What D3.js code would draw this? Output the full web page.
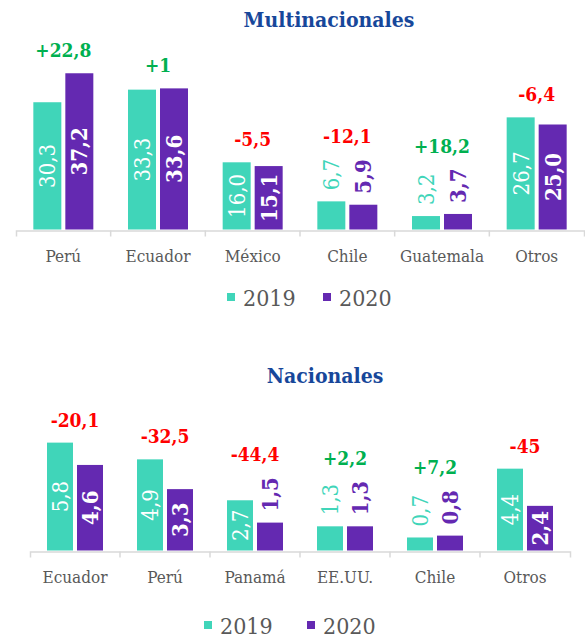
<!DOCTYPE html>
<meta charset="utf-8">
<style>
  body { margin: 0; background: #fff; }
  svg text { font-family: "DejaVu Serif Condensed", "DejaVu Serif", serif; font-stretch: condensed; }
</style>
<svg id="chart" width="585" height="641"></svg>
<script src="https://d3js.org/d3.v7.min.js"></script>
<script>
// ---- data ----
var years = ["2019", "2020"];

var multiCats = ["Perú", "Ecuador", "México", "Chile", "Guatemala", "Otros"];
var multi2019 = [30.3, 33.3, 16.0, 6.7, 3.2, 26.7];
var multi2020 = [37.2, 33.6, 15.1, 5.9, 3.7, 25.0];
var multiChange = [22.8, 1, -5.5, -12.1, 18.2, -6.4];

var nacCats = ["Ecuador", "Perú", "Panamá", "EE.UU.", "Chile", "Otros"];
var nac2019 = [5.8, 4.9, 2.7, 1.3, 0.7, 4.4];
var nac2020 = [4.6, 3.3, 1.5, 1.3, 0.8, 2.4];
var nacChange = [-20.1, -32.5, -44.4, 2.2, 7.2, -45];

// ---- styles ----
var color = { "2019": "#40d5b9", "2020": "#6429b1" };
var titleColor = "#17479a";
var greyText = "#595959";
var up = "#00b050", down = "#ff0000";

var svg = d3.select("#chart");

var fmtVal = function (v) { return d3.format(".1f")(v).replace(".", ","); };
var fmtChg = function (v) { return (v > 0 ? "+" : "") + String(v).replace(".", ","); };

function drawPanel(p) {
  var g = svg.append("g");

  // title
  g.append("text")
    .attr("x", p.titleX).attr("y", p.titleY)
    .attr("text-anchor", "middle")
    .style("font-weight", "bold").style("font-size", "21px")
    .attr("fill", titleColor)
    .text(p.title);

  var x = d3.scaleBand().domain(p.cats).range(p.xRange);
  var y = d3.scaleLinear().domain([0, p.yMax]).range([p.base, p.base - p.yMax * p.pxPerUnit]);

  var gw = p.barW * 2 + 4;
  var x1 = d3.scaleBand().domain(years)
    .range([x.bandwidth() / 2 - gw / 2, x.bandwidth() / 2 + gw / 2])
    .paddingInner(4 / (p.barW + 4));

  var rows = p.cats.map(function (c, i) {
    return { cat: c, vals: [p.v19[i], p.v20[i]], chg: p.chg[i] };
  });

  var grp = g.selectAll("g.cat").data(rows).enter().append("g")
    .attr("class", "cat")
    .attr("transform", function (d) { return "translate(" + x(d.cat) + ",0)"; });

  grp.each(function (d) {
    var gg = d3.select(this);
    var topMost = Infinity;
    years.forEach(function (yr, k) {
      var v = d.vals[k];
      var bx = x1(yr), bw = x1.bandwidth();
      var top = y(v);
      gg.append("rect")
        .attr("x", bx).attr("y", top)
        .attr("width", bw).attr("height", p.base - top)
        .attr("fill", color[yr]);

      var t = gg.append("text")
        .style("font-size", "22px")
        .style("font-weight", yr == "2020" ? "bold" : "normal")
        .attr("dy", "0.36em")
        .text(fmtVal(v));
      var len = t.node().getComputedTextLength();
      var cx = bx + bw / 2;
      if (p.base - top >= len + 8) {
        t.attr("fill", "#fff").attr("text-anchor", "middle")
          .attr("transform", "translate(" + cx + "," + (top + p.base) / 2 + ")rotate(-90)");
        topMost = Math.min(topMost, top);
      } else {
        t.attr("fill", color[yr]).attr("text-anchor", "start")
          .attr("transform", "translate(" + cx + "," + (top - 11) + ")rotate(-90)");
        topMost = Math.min(topMost, top - 11 - len);
      }
    });

    gg.append("text")
      .attr("x", x.bandwidth() / 2).attr("y", topMost - 16)
      .attr("text-anchor", "middle")
      .style("font-weight", "bold").style("font-size", "19px")
      .attr("fill", d.chg >= 0 ? up : down)
      .text(fmtChg(d.chg));
  });

  // axis
  var axis = g.append("g").attr("transform", "translate(0," + p.axisY + ")")
    .call(d3.axisBottom(x).tickSizeInner(0).tickSizeOuter(6).tickPadding(0));
  axis.attr("font-family", null).attr("font-size", null);
  axis.select(".domain").attr("stroke", "#d9d9d9").attr("stroke-width", 1.5);
  axis.selectAll(".tick text")
    .attr("y", 31).attr("dy", 0)
    .attr("fill", greyText)
    .style("font-size", "17px");
  axis.selectAll("line.sep").data(p.cats.slice(1)).enter().append("line")
    .attr("class", "sep")
    .attr("x1", function (c) { return x(c); }).attr("x2", function (c) { return x(c); })
    .attr("y1", 0).attr("y2", 6)
    .attr("stroke", "#d9d9d9").attr("stroke-width", 1.5);

  // legend
  var lg = g.append("g").attr("transform", "translate(" + p.legendX + "," + p.legendY + ")");
  var lx = [0, p.legendStep];
  years.forEach(function (yr, k) {
    lg.append("rect").attr("x", lx[k]).attr("y", -13).attr("width", 8).attr("height", 8)
      .attr("fill", color[yr]);
    lg.append("text").attr("x", lx[k] + 16).attr("y", 0)
      .attr("fill", greyText).style("font-size", "23px")
      .text(yr);
  });
}

drawPanel({
  title: "Multinacionales", titleX: 329, titleY: 27,
  cats: multiCats, v19: multi2019, v20: multi2020, chg: multiChange,
  xRange: [16, 584], base: 229.5, axisY: 230.5, yMax: 40, pxPerUnit: 4.2, barW: 28,
  legendX: 227, legendY: 306, legendStep: 96
});

drawPanel({
  title: "Nacionales", titleX: 325, titleY: 383,
  cats: nacCats, v19: nac2019, v20: nac2020, chg: nacChange,
  xRange: [30, 570], base: 550.5, axisY: 551.5, yMax: 6, pxPerUnit: 18.6, barW: 26,
  legendX: 204, legendY: 634, legendStep: 103
});
</script>
